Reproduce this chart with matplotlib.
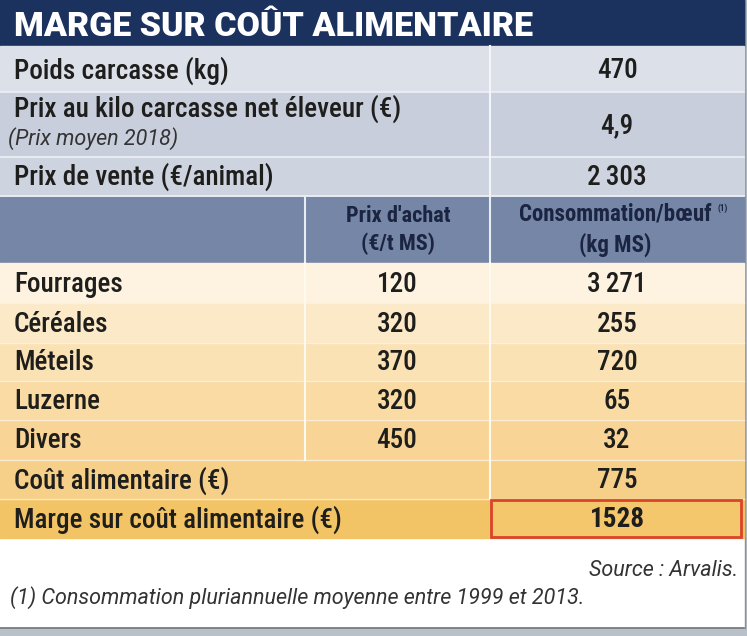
import matplotlib
matplotlib.use("Agg")
import matplotlib.pyplot as plt
from matplotlib.patches import Rectangle

# ---------------- data ----------------
title = "MARGE SUR COÛT ALIMENTAIRE"
top_labels = ["Poids carcasse (kg)", "Prix au kilo carcasse net éleveur (€)", "Prix de vente (€/animal)"]
top_note = "(Prix moyen 2018)"
top_values = ["470", "4,9", "2\u2009303"]
col_headers = ["Prix d'achat\n(€/t MS)", "Consommation/bœuf\n(kg MS)"]
feeds = ["Fourrages", "Céréales", "Méteils", "Luzerne", "Divers"]
prix_achat = [120, 320, 370, 320, 450]
consommation = [3271, 255, 720, 65, 32]
cout_label = "Coût alimentaire (€)"
cout_value = 775
marge_label = "Marge sur coût alimentaire (€)"
marge_value = 1528
source = "Source : Arvalis."
footnote = "(1) Consommation pluriannuelle moyenne entre 1999 et 2013."

COND = ["Roboto Condensed", "DejaVu Sans"]
TITLEF = ["Roboto", "DejaVu Sans"]
ITAL = ["Roboto", "DejaVu Sans"]
TXT = "#1e1e1c"
FS = 19.5
FW = "medium"


def fmt(v):
    return f"{v:,}".replace(",", "\u2009")


W, H = 747, 636
fig = plt.figure(figsize=(W / 100, H / 100), dpi=100)
ax = fig.add_axes([0, 0, 1, 1])
ax.set_xlim(0, W)
ax.set_ylim(H, 0)
ax.axis("off")

# background / shadow frame
ax.add_patch(Rectangle((0, 0), W, H, color="#b9c0c8", zorder=0))
ax.add_patch(Rectangle((0, 0), 744, 627, color="white", zorder=1))
ax.plot([0, 744], [627.5, 627.5], color="#6d7278", lw=1.2, zorder=2)
ax.plot([744.5, 744.5], [0, 628], color="#8a9097", lw=1.0, zorder=2)

X0, X1, XC1, XC2 = 0, 744, 305, 490

# title bar
ax.add_patch(Rectangle((X0, 0), X1, 46, color="#1b325f", zorder=2))
ax.text(14, 36, title, color="white", fontsize=24.5, fontweight="black",
        family=TITLEF, va="baseline", ha="left", zorder=5)

# top grey rows
grey_rows = [(46, 92), (92, 157), (157, 196)]
grey_cols = ["#dce0e9", "#c8cedb", "#cdd3df"]
for (y0, y1), c in zip(grey_rows, grey_cols):
    ax.add_patch(Rectangle((X0, y0), X1, y1 - y0, color=c, zorder=2))
    ax.plot([X0, X1], [y1, y1], color="#eef0f5", lw=1.2, zorder=3)
ax.plot([XC2, XC2], [46, 196], color="#f4f5f8", lw=1.5, zorder=3)

label_ys = [71, 109, 177]
for lab, val, y, (y0, y1) in zip(top_labels, top_values, label_ys, grey_rows):
    ax.text(14, y, lab, fontsize=FS, family=COND, fontweight=FW, color=TXT,
            va="center", ha="left", zorder=5)
    ax.text(617, (y0 + y1) / 2 + 1, val, fontsize=FS, family=COND, fontweight=FW, color=TXT,
            va="center", ha="center", zorder=5)
ax.text(8, 139, top_note, fontsize=15.5, family=ITAL, style="italic",
        color="#333333", va="center", ha="left", zorder=5)

# header row
ax.add_patch(Rectangle((X0, 197), X1, 65, color="#7686a7", zorder=2))
for xc in (XC1, XC2):
    ax.plot([xc, xc], [197, 262], color="#e8ecf3", lw=1.5, zorder=3)
ax.text(398, 230, col_headers[0], fontsize=16, family=COND, fontweight="bold",
        color="#1b2440", va="center", ha="center", linespacing=1.35, zorder=5)
ax.text(615, 230, col_headers[1], fontsize=16.5, family=COND, fontweight="bold",
        color="#1b2440", va="center", ha="center", linespacing=1.35, zorder=5)
ax.text(718, 208, "(1)", fontsize=6.5, family=COND, fontweight="bold", color="#1b2440",
        va="center", ha="left", zorder=5)

# orange rows
row_edges = [263, 303, 343, 381, 420, 460, 499, 538]
row_cols = ["#fef3e0", "#fce9c8", "#fae2b4", "#f9dba3", "#f8d596", "#f6cf88", "#f3c466"]
for i in range(7):
    y0, y1 = row_edges[i], row_edges[i + 1]
    ax.add_patch(Rectangle((X0, y0), X1, y1 - y0, color=row_cols[i], zorder=2))
    if i < 6:
        ax.plot([X0, X1], [y1, y1], color="#fdf4e4", lw=1.0, alpha=0.8, zorder=3)

ax.plot([XC1, XC1], [263, 460], color="#fffaf0", lw=1.5, zorder=3)
ax.plot([XC2, XC2], [263, 499], color="#fffaf0", lw=1.5, zorder=3)

for i, (f, p, c) in enumerate(zip(feeds, prix_achat, consommation)):
    yc = (row_edges[i] + row_edges[i + 1]) / 2 + 1
    ax.text(14, yc, f, fontsize=FS, family=COND, fontweight=FW, color=TXT,
            va="center", ha="left", zorder=5)
    ax.text(397, yc, fmt(p), fontsize=FS, family=COND, fontweight=FW, color=TXT,
            va="center", ha="center", zorder=5)
    ax.text(617, yc, fmt(c), fontsize=FS, family=COND, fontweight=FW, color=TXT,
            va="center", ha="center", zorder=5)

yc = (row_edges[5] + row_edges[6]) / 2 + 1
ax.text(14, yc, cout_label, fontsize=FS, family=COND, fontweight=FW, color=TXT,
        va="center", ha="left", zorder=5)
ax.text(617, yc, fmt(cout_value), fontsize=FS, family=COND, fontweight=FW, color=TXT,
        va="center", ha="center", zorder=5)

yc = (row_edges[6] + row_edges[7]) / 2 + 1
ax.text(14, yc, marge_label, fontsize=FS, family=COND, fontweight=FW, color=TXT,
        va="center", ha="left", zorder=5)
ax.add_patch(Rectangle((491, 500), 250, 37, facecolor="#f5c76c", edgecolor="#d9442a",
                       lw=2.0, zorder=4))
ax.text(617, yc, str(marge_value), fontsize=FS, family=COND, fontweight="bold", color=TXT,
        va="center", ha="center", zorder=5)

# footer texts
ax.text(738, 571, source, fontsize=15.5, family=ITAL, style="italic",
        color="#333333", va="center", ha="right", zorder=5)
ax.text(10, 598, footnote, fontsize=15.5, family=ITAL, style="italic",
        color="#333333", va="center", ha="left", zorder=5)

fig.savefig("out.png", dpi=100)
